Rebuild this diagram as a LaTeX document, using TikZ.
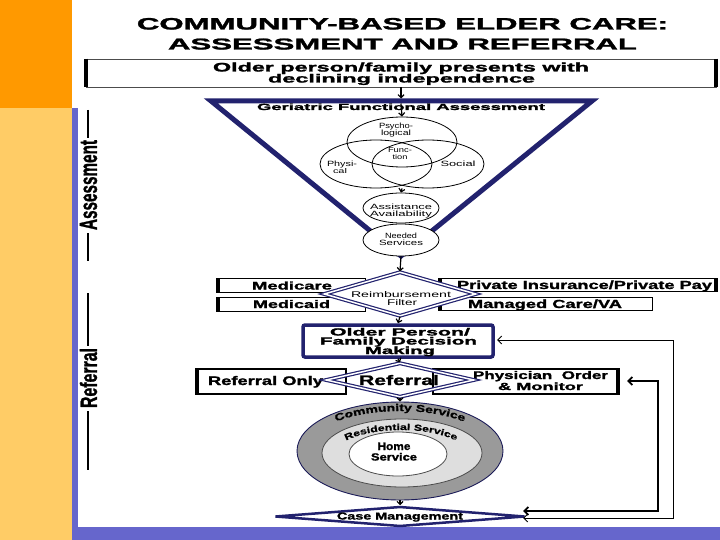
\documentclass[tikz,border=0pt]{standalone}
\usepackage{fontspec}
\usepackage{graphicx}
\setsansfont{Liberation Sans}
\newfontfamily\heavy[BoldFeatures={FakeBold=1.4}]{Liberation Sans}
\newfontfamily\widefont[FakeStretch=1.4,BoldFeatures={FakeBold=1}]{Liberation Sans}
\usetikzlibrary{shapes.geometric,arrows.meta,decorations.text}
\newcommand\fitt[3]{\resizebox{#1pt}{#2pt}{#3}}
\definecolor{navy}{HTML}{22226E}
\definecolor{barblue}{HTML}{6666CC}
\definecolor{orng}{HTML}{FF9900}
\definecolor{lorng}{HTML}{FFCC66}
\definecolor{ringdark}{HTML}{9A9A9A}
\definecolor{ringlight}{HTML}{DEDEDE}
\begin{document}
\begin{tikzpicture}[x=1pt,y=-1pt,
  txt/.style={inner sep=0pt,anchor=base,font=\heavy\bfseries},
  stxt/.style={inner sep=0pt,anchor=base,font=\sffamily},
  arr/.style={line width=1.2pt,-{Straight Barb[length=3pt,width=6pt]}},
  ell/.style={ellipse,draw=black,line width=0.8pt,inner sep=0pt},
  dbl/.style={diamond,draw=navy,line width=1.2pt,double=white,double distance=1.5pt,fill=white,inner sep=0pt},
  thinbox/.style={rectangle,draw=black,line width=0.8pt,inner sep=0pt,anchor=north west,fill=white},
  edgeline/.style={line width=3.5pt},
  loopline/.style={{Straight Barb[length=4pt,width=8pt]}-{Straight Barb[length=4pt,width=8pt]}}]
% background
\fill[white] (0,0) rectangle (720,540);
\fill[orng] (0,0) rectangle (72,108);
\fill[lorng] (0,108) rectangle (72,540);
\fill[barblue] (72,108) rectangle (78,540);
\fill[barblue] (72,527) rectangle (720,540);
\useasboundingbox (0,0) rectangle (720,540);
% title
\node[txt] (t1) at (402.5,29.5) {\fitt{531}{11.5}{COMMUNITY-BASED ELDER CARE:}};
\node[txt] (t2) at (402.5,49.5) {\fitt{469}{11}{ASSESSMENT AND REFERRAL}};
% start box
\node[rectangle,draw=black!70,line width=0.8pt,inner sep=0pt,minimum width=630pt,minimum height=28pt] (start) at (401,73) {};
\draw[line width=4pt] (start.north west) -- (start.south west) (start.north east) -- (start.south east);
\node[txt] (s1) at (401,71.5) {\fitt{376}{9}{Older person/family presents with}};
\node[txt] (s2) at (401.5,82.5) {\fitt{267}{8.5}{declining independence}};
% triangle
\coordinate (tl) at (211,101);
\coordinate (tr) at (592,101);
\coordinate (tb) at (401,256);
\draw[navy,line width=5pt,line join=miter,fill=white] (tl) -- (tr) -- (tb) -- cycle;
\coordinate (ttop) at (401,98.5);
\coordinate (tin) at (401,103.5);
\draw[arr] (start) -- (ttop);
\node[txt] (ger) at (401,110) {\fitt{288}{6.5}{Geriatric Functional Assessment}};
% venn
\node[ell,minimum width=110pt,minimum height=50pt] (psy) at (402,142) {};
\node[ell,minimum width=112pt,minimum height=48pt] (phys) at (376,164) {};
\node[ell,minimum width=112pt,minimum height=48pt] (soc) at (428,164) {};
\draw[arr] (tin) -- (psy.north);
\node[stxt] (p1) at (396,128.5) {\fitt{34}{5.5}{Psycho-}};
\node[stxt] (p2) at (396,135.5) {\fitt{30}{5.5}{logical}};
\node[stxt] (f1) at (400,153) {\fitt{24}{5}{Func-}};
\node[stxt] (f2) at (400,160) {\fitt{15}{5}{tion}};
\node[stxt] (ph1) at (342,166.5) {\fitt{30}{5.5}{Physi-}};
\node[stxt] (ph2) at (340,173.5) {\fitt{14}{5}{cal}};
\node[stxt] (so) at (458,167) {\fitt{35}{5.5}{Social}};
% assistance, needed
\node[ell,fill=white,minimum width=76pt,minimum height=30pt] (assist) at (401,208) {};
\node[ell,fill=white,minimum width=76pt,minimum height=32pt] (needed) at (401,240) {};
\draw[arr] (psy.center |- phys.south) -- (assist.north);
\node[stxt] (a1) at (401,209.5) {\fitt{62}{5.5}{Assistance}};
\node[stxt] (a2) at (401,216.5) {\fitt{62}{5.5}{Availability}};
\node[stxt] (n1) at (401,239) {\fitt{32}{5.5}{Needed}};
\node[stxt] (n2) at (401,246) {\fitt{44}{5.5}{Services}};
% payer boxes
\node[thinbox,minimum width=147pt,minimum height=14pt] (mcare) at (218,278) {};
\node[thinbox,minimum width=147pt,minimum height=14pt] (mcaid) at (218,297) {};
\node[thinbox,minimum width=275pt,minimum height=13pt] (priv) at (440,278) {};
\node[thinbox,minimum width=212pt,minimum height=13pt] (mgd) at (440,297) {};
\draw[edgeline] (mcare.north west) -- (mcare.south west) (mcaid.north west) -- (mcaid.south west)
  (priv.north west) -- (priv.south west) (priv.north east) -- (priv.south east)
  (mgd.north west) -- (mgd.south west);
\node[txt] (tmcare) at (292,289.5) {\fitt{80}{8}{Medicare}};
\node[txt] (tmcaid) at (291.5,308) {\fitt{77}{8}{Medicaid}};
\node[txt] (tpriv) at (584.5,289) {\fitt{255}{8.5}{Private Insurance/Private Pay}};
\node[txt] (tmgd) at (545,308) {\fitt{154}{8.5}{Managed Care/VA}};
\node[dbl,minimum width=152pt,minimum height=44pt] (reimb) at (400,294) {};
\draw[arr] (needed.south) -- (reimb.north);
\node[stxt] (r1) at (401,297) {\fitt{100}{6}{Reimbursement}};
\node[stxt] (r2) at (402,305) {\fitt{30}{6}{Filter}};
% decision
\node[rectangle,draw=navy,line width=3.5pt,rounded corners=2pt,inner sep=0pt,minimum width=190pt,minimum height=32pt,fill=white] (dec) at (398,341) {};
\draw[arr] (reimb.south) -- (dec.north);
\node[txt] (d1) at (400,335.5) {\fitt{140}{7.5}{Older Person/}};
\node[txt] (d2) at (398.5,344.5) {\fitt{157}{7.5}{Family Decision}};
\node[txt] (d3) at (400,354) {\fitt{70}{7.5}{Making}};
% referral row
\node[thinbox,line width=1.8pt,minimum width=148pt,minimum height=25pt] (ronly) at (197,368) {};
\draw[line width=4pt] (ronly.north west) -- (ronly.south west);
\node[thinbox,line width=1.8pt,minimum width=184pt,minimum height=25pt] (phy) at (432,368) {};
\draw[line width=4pt] (phy.north east) -- (phy.south east);
\node[txt] (tronly) at (265.5,385) {\fitt{115}{9}{Referral Only}};
\node[txt] (tphy1) at (540.5,379) {\fitt{135}{8}{Physician~~Order}};
\node[txt] (tphy2) at (540.5,390) {\fitt{85}{7.5}{\&~Monitor}};
\node[dbl,minimum width=148pt,minimum height=34pt,fill=none] (refd) at (400,380) {};
\draw[arr] (dec.south) -- (refd.north);
\node[txt] (tref) at (399,385) {\fitt{80}{10}{Referral}};
% rings
\node[ellipse,draw=navy!80!black,line width=0.9pt,fill=ringdark,inner sep=0pt,minimum width=206pt,minimum height=98pt] (outer) at (400,451) {};
\node[ellipse,draw=black!70,line width=0.8pt,fill=ringlight,inner sep=0pt,minimum width=160pt,minimum height=68pt] (mid) at (402,453) {};
\node[ellipse,draw=black!70,line width=0.8pt,fill=white,inner sep=0pt,minimum width=98pt,minimum height=44pt] (inner) at (398,454) {};
\draw[arr] (refd.south) -- (outer.north);
\path[decorate,decoration={text along path,text align=center,
  text={|\widefont\bfseries\fontsize{10}{10}\selectfont|Community Service}}]
  (400,452) ++(213:95 and 41) arc (213:327:95 and 41);
\path[decorate,decoration={text along path,text align=center,
  text={|\widefont\bfseries\fontsize{8.8}{8.8}\selectfont|Residential Service}}]
  (401,457) ++(194:69 and 27) arc (194:346:69 and 27);
\node[txt] (h1) at (394,450) {\fitt{33}{7.5}{Home}};
\node[txt] (h2) at (394,460.5) {\fitt{46}{7.5}{Service}};
% case management
\node[diamond,draw=navy,line width=2.5pt,fill=white,inner sep=0pt,minimum width=250pt,minimum height=20pt] (case) at (400,516.5) {};
\draw[arr] (outer.south) -- (case.north);
\node[txt] (tcase) at (400,519.5) {\fitt{126}{7}{Case Management}};
% feedback loops
\coordinate (cin) at (523,511);
\coordinate (cout) at (523,518);
\coordinate (pin) at (627,381);
\coordinate (dout) at (497,340);
\draw[loopline,line width=1.8pt] (cin) -- (658,511) |- (pin);
\draw[loopline,line width=1pt] (cout) -- (673,518) |- (dout);
% side labels
\node[txt,rotate=90,anchor=center] (lab1) at (88.5,185) {\fitt{90}{17}{Assessment}};
\node[txt,rotate=90,anchor=center] (lab2) at (88.5,378) {\fitt{60}{17}{Referral}};
\draw[line width=2pt] (88,110) -- (88,138) (88,233) -- (88,261)
  (88,293) -- (88,346) (88,411) -- (88,470);
\end{tikzpicture}
\end{document}
